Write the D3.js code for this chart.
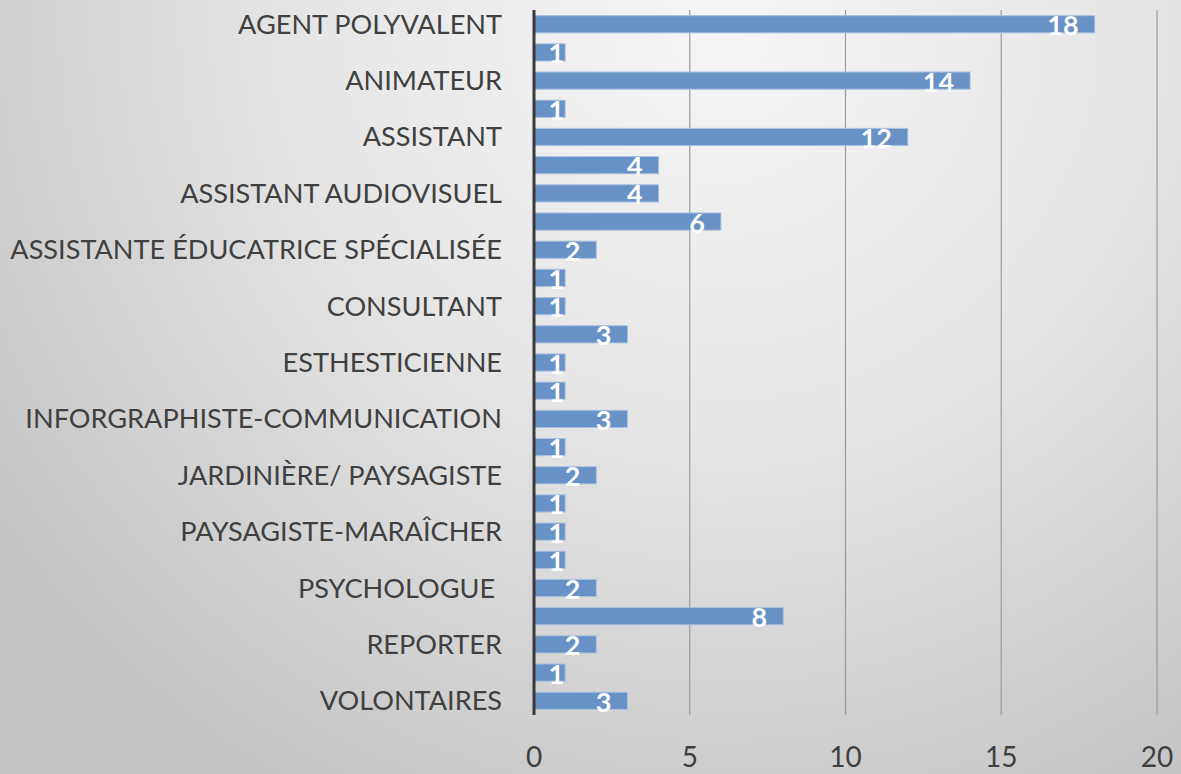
<!DOCTYPE html>
<html><head><meta charset="utf-8">
<script src="https://cdn.jsdelivr.net/npm/d3@7"></script>
<style>html,body{margin:0;padding:0;}svg{display:block;}</style>
</head><body>
<svg id="chart" width="1181" height="774"></svg>
<script>
// Categories (every other label is hidden in the original chart; unknown hidden names left blank)
const categories = [
  "AGENT POLYVALENT", "", "ANIMATEUR", "", "ASSISTANT", "", "ASSISTANT AUDIOVISUEL", "",
  "ASSISTANTE ÉDUCATRICE SPÉCIALISÉE", "", "CONSULTANT", "", "ESTHESTICIENNE", "",
  "INFORGRAPHISTE-COMMUNICATION", "", "JARDINIÈRE/ PAYSAGISTE", "", "PAYSAGISTE-MARAÎCHER", "",
  "PSYCHOLOGUE ", "", "REPORTER", "", "VOLONTAIRES"
];
const values = [18, 1, 14, 1, 12, 4, 4, 6, 2, 1, 1, 3, 1, 1, 3, 1, 2, 1, 1, 1, 2, 8, 2, 1, 3];
const xTicks = [0, 5, 10, 15, 20];

(function () {
const W = 1181, H = 774;
const svg = d3.select("#chart");
const defs = svg.append("defs");
const grad = defs.append("radialGradient").attr("id", "bg")
  .attr("gradientUnits", "userSpaceOnUse")
  .attr("cx", 720).attr("cy", 20).attr("r", 900);
grad.append("stop").attr("offset", "0%").attr("stop-color", "#f6f6f6");
grad.append("stop").attr("offset", "45%").attr("stop-color", "#e6e6e6");
grad.append("stop").attr("offset", "100%").attr("stop-color", "#c3c3c3");
svg.append("rect").attr("width", W).attr("height", H).attr("fill", "url(#bg)");

const xL = 534, xR = 1157, yT = 10, yB = 715;
const x = d3.scaleLinear().domain([0, 20]).range([xL, xR]);
const idx = d3.range(categories.length);
const y = d3.scaleBand().domain(idx).range([yT, yB]).paddingInner(0.39).paddingOuter(0.2);

// gridlines
svg.append("g").selectAll("line").data(xTicks.filter(t => t > 0)).join("line")
  .attr("x1", d => x(d)).attr("x2", d => x(d))
  .attr("y1", yT).attr("y2", yB)
  .attr("stroke", "#9a9a9a").attr("stroke-width", 1.2);

// bars
svg.append("g").selectAll("rect").data(idx).join("rect")
  .attr("x", x(0)).attr("y", i => y(i))
  .attr("width", i => x(values[i]) - x(0))
  .attr("height", y.bandwidth())
  .attr("fill", "#6891c6").attr("stroke", "#a9c1e1").attr("stroke-width", 1);

// axis line
svg.append("line").attr("x1", xL).attr("x2", xL).attr("y1", yT).attr("y2", yB)
  .attr("stroke", "#3a3a3a").attr("stroke-width", 3);

// category labels
const catFont = "Lato, 'Open Sans', sans-serif";
const labs = svg.append("g").selectAll("text").data(idx.filter(i => categories[i] !== "")).join("text")
  .attr("x", 502)
  .attr("y", i => y(i) + y.bandwidth() / 2 + 9.5)
  .attr("text-anchor", "end")
  .style("white-space", "pre")
  .attr("font-family", catFont).attr("font-size", 26)
  .attr("fill", "#404040")
  .text(i => categories[i]);
let maxW = 0;
labs.each(function () { maxW = Math.max(maxW, this.getComputedTextLength()); });
labs.attr("font-size", 26 * 492 / maxW);

// x tick labels
svg.append("g").selectAll("text").data(xTicks).join("text")
  .attr("x", d => x(d)).attr("y", 767)
  .attr("text-anchor", "middle")
  .attr("font-family", catFont).attr("font-size", 28)
  .attr("fill", "#404040")
  .text(d => d);

// value labels
const vG = svg.append("g");
idx.forEach(i => {
  const t = vG.append("text")
    .attr("y", y(i) + y.bandwidth() / 2 + 11)
    .attr("font-family", catFont).attr("font-weight", "bold").attr("font-size", 27)
    .attr("fill", "#ffffff").attr("text-anchor", "end")
    .text(values[i]);
  const w = t.node().getComputedTextLength();
  const end = x(values[i]);
  let tx = end - 16;
  if (tx - w < xL + 10) tx = end - 1;
  t.attr("x", tx);
});
})();
</script>
</body></html>
